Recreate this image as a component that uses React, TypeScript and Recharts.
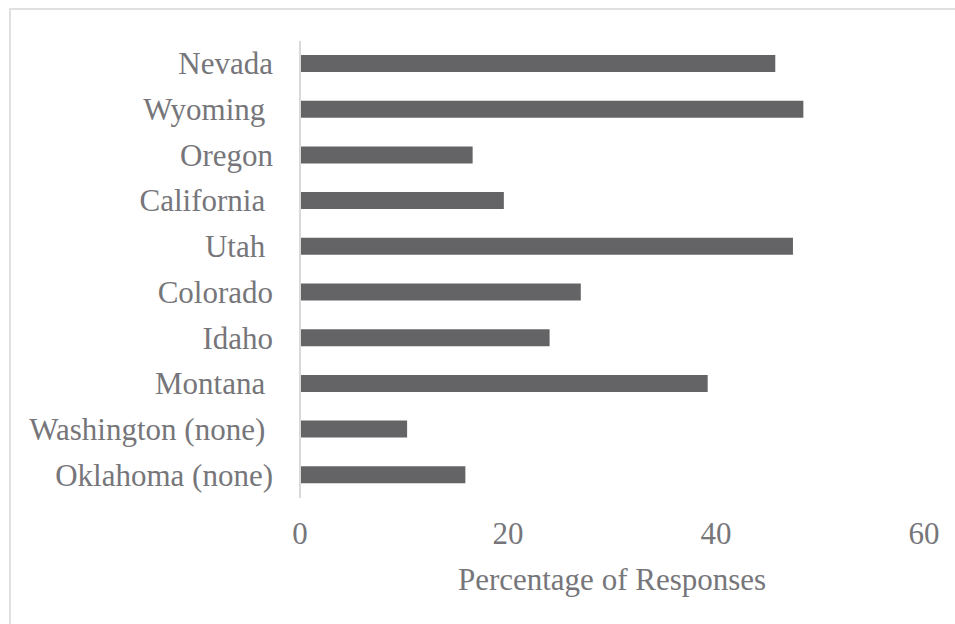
import { BarChart, Bar, XAxis, YAxis } from "recharts";

// categories top to bottom, trailing spaces are in the original labels
const states = [
  "Nevada",
  "Wyoming ",
  "Oregon",
  "California ",
  "Utah ",
  "Colorado",
  "Idaho",
  "Montana ",
  "Washington (none) ",
  "Oklahoma (none)",
];
const percentages = [45.7, 48.4, 16.6, 19.6, 47.4, 27.0, 24.0, 39.2, 10.3, 15.9];
const xTicks = [0, 20, 40, 60];
const xTitle = "Percentage of Responses";

const data = states.map((state, i) => ({ state, value: percentages[i] }));

const FONT = '"Liberation Serif", "Times New Roman", serif';
const TEXT = "#76767a";
const SIZE = 31;

function StateTick(props: any) {
  const { x, y, payload } = props;
  return (
    <text
      x={x - 27}
      y={y + 10.5}
      textAnchor="end"
      xmlSpace="preserve"
      style={{ whiteSpace: "pre" }}
      fontFamily={FONT}
      fontSize={SIZE}
      fill={TEXT}
    >
      {payload.value}
    </text>
  );
}

function ValueTick(props: any) {
  const { x, y, payload } = props;
  return (
    <text x={x} y={y + 46} textAnchor="middle" fontFamily={FONT} fontSize={SIZE} fill={TEXT}>
      {payload.value}
    </text>
  );
}

function AxisTitle(props: any) {
  const vb = props.viewBox || {};
  return (
    <text
      x={vb.x + vb.width / 2}
      y={vb.y + 92}
      textAnchor="middle"
      fontFamily={FONT}
      fontSize={SIZE}
      fill={TEXT}
    >
      {xTitle}
    </text>
  );
}

export default function App() {
  return (
    <div
      style={{
        position: "fixed",
        left: 0,
        top: 0,
        width: 955,
        height: 624,
        overflow: "hidden",
        background: "#fff",
      }}
    >
      <div
        style={{
          position: "absolute",
          left: 9,
          top: 8,
          width: 1000,
          height: 700,
          borderTop: "2px solid #e0e0e0",
          borderLeft: "2px solid #e0e0e0",
        }}
      >
        <BarChart
          width={930}
          height={600}
          data={data}
          layout="vertical"
          margin={{ top: 31, right: 17, left: 0, bottom: 0 }}
        >
          <XAxis
            type="number"
            domain={[0, 60]}
            ticks={xTicks}
            axisLine={false}
            tickLine={false}
            tickSize={0}
            tickMargin={0}
            height={112}
            tick={<ValueTick />}
            label={<AxisTitle />}
          />
          <YAxis
            type="category"
            dataKey="state"
            width={289}
            axisLine={{ stroke: "#d9d9d9", strokeWidth: 2 }}
            tickLine={false}
            tickSize={0}
            tickMargin={0}
            interval={0}
            tick={<StateTick />}
          />
          <Bar dataKey="value" fill="#646466" barSize={17} isAnimationActive={false} />
        </BarChart>
      </div>
    </div>
  );
}
